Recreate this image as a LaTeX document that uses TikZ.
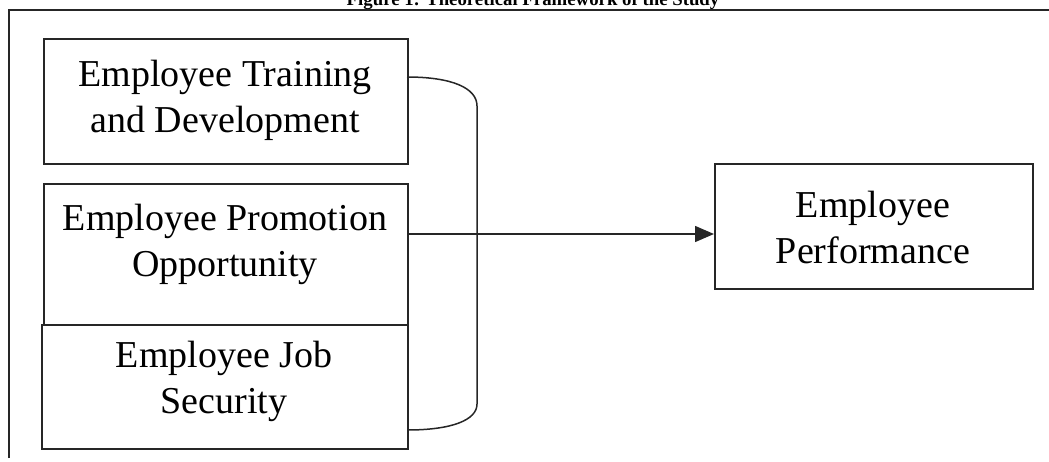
\documentclass[tikz,border=0pt]{standalone}
\usepackage{fontspec}
\setmainfont{Liberation Serif}
\usetikzlibrary{arrows.meta}
\begin{document}
\begin{tikzpicture}[x=0.5pt,y=-0.5pt,
 box/.style={draw=black!85, line width=0.75pt, inner sep=0pt, anchor=north west},
 lbl/.style={align=center, font=\fontsize{19}{23}\selectfont, inner sep=0pt},
 conn/.style={draw=black!85, line width=0.75pt}]
\useasboundingbox (0,0) rectangle (1049,461);
\begin{scope}
\clip (0,0) rectangle (1049,461);
\node[font=\bfseries\fontsize{9.4}{11}\selectfont, anchor=base, inner sep=0pt] (cap) at (533,5) {Figure 1: Theoretical Framework of the Study};
\end{scope}
% frame
\coordinate (fa) at (8.5,458);
\coordinate (fb) at (8.5,10);
\coordinate (fc) at (1049,10);
\draw[black!85, line width=1pt] (fa) -- (fb) -- (fc);
% boxes
\node[box, minimum width=182pt, minimum height=62.5pt] (b1) at (43,38) {};
\node[box, minimum width=182pt, minimum height=70.5pt] (b2) at (43,183) {};
\node[box, minimum width=183pt, minimum height=62pt] (b3) at (41,324) {};
\node[box, minimum width=159pt, minimum height=62.5pt] (t) at (714,163) {};
% labels
\node[lbl] (b1t) at (225,100) {Employee Training\\and Development};
\node[lbl] (b2t) at (225,244) {Employee Promotion\\Opportunity};
\node[lbl] (b3t) at (224,381) {Employee Job\\Security};
\node[lbl] (tt) at (873,227) {Employee\\Performance};
% bracket
\coordinate (bt) at (407,77);
\coordinate (bb) at (407,430);
\draw[conn] (bt) .. controls (452,77) and (477,88) .. (477,106) -- (477,404) .. controls (477,420) and (452,430) .. (bb);
% arrow
\coordinate (ay) at (0,234);
\draw[conn, -{Triangle[length=9.5pt,width=8pt]}] (b2.east |- ay) -- (t.west |- ay);
\end{tikzpicture}
\end{document}
